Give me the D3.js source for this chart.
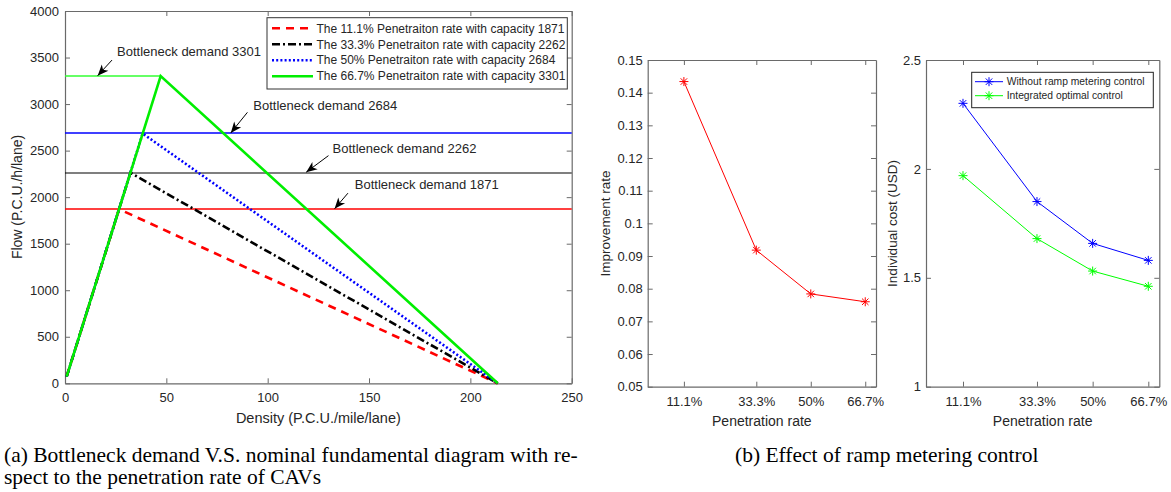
<!DOCTYPE html>
<html>
<head>
<meta charset="utf-8">
<script src="https://cdn.jsdelivr.net/npm/d3@7/dist/d3.min.js"></script>
<style>
  html, body { margin: 0; padding: 0; background: #fff; }
  svg { display: block; }
  text { font-family: "Liberation Sans", Arial, sans-serif; fill: #262626; }
  .caption { font-family: "Liberation Serif", "Times New Roman", serif; fill: #000; }
</style>
</head>
<body>
<svg id="fig" width="1171" height="492"></svg>
<script>
// ---------- (a) fundamental diagrams ----------
const fdNames = [
  "The 11.1% Penetraiton rate with capacity 1871",
  "The 33.3% Penetraiton rate with capacity 2262",
  "The 50% Penetraiton rate with capacity 2684",
  "The 66.7% Penetraiton rate with capacity 3301"
];
// triangle vertices: free-flow start, capacity point, jam density
const fdDensity = [
  [0.8, 26.7, 213.5],
  [0.8, 32.3, 213.5],
  [0.8, 38.3, 213.5],
  [0.8, 47.2, 213.5]
];
const fdFlow = [
  [71, 1871, 0],
  [71, 2262, 0],
  [71, 2684, 0],
  [71, 3301, 0]
];
// bottleneck demand lines
const demandValues = [1871, 2262, 2684, 3301];
const demandEnd = [250, 250, 250, 47.2];
// annotation text anchor (density, flow) and arrow tail/tip
const annoLabels = ["Bottleneck demand 1871", "Bottleneck demand 2262", "Bottleneck demand 2684", "Bottleneck demand 3301"];
const annoText = [[143, 2132], [132, 2518], [92.9, 2989], [25.7, 3563]];
const annoTail = [[139.6, 2043], [130, 2446], [90, 2911], [23.2, 3473]];
const annoTip = [[133, 1875], [119, 2268], [81.8, 2690], [16.1, 3305]];
const fdXTicks = [0, 50, 100, 150, 200, 250];
const fdYTicks = [0, 500, 1000, 1500, 2000, 2500, 3000, 3500, 4000];

// ---------- (b) ramp metering ----------
const penetration = [11.1, 33.3, 50, 66.7];
const penetrationLabels = ["11.1%", "33.3%", "50%", "66.7%"];
const improvementRate = [0.1434, 0.0918, 0.0784, 0.0760];
const costWithout = [2.301, 1.850, 1.658, 1.580];
const costIntegrated = [1.969, 1.680, 1.531, 1.461];
const costNames = ["Without ramp metering control", "Integrated optimal control"];
const rateYTicks = [0.05, 0.06, 0.07, 0.08, 0.09, 0.1, 0.11, 0.12, 0.13, 0.14, 0.15];
const costYTicks = [1, 1.5, 2, 2.5];

const svg = d3.select("#fig");
const AXIS = "#6a6a6a";

function boxAxes(g, x, y, o) {
  const [x0, x1] = x.range();
  const [yb, yt] = y.range();
  const bx = g.append("g").attr("transform", `translate(0,${yb})`)
    .call(d3.axisBottom(x).tickValues(o.xTicks).tickFormat(o.xFormat)
      .tickSizeInner(-5).tickSizeOuter(0).tickPadding(o.xPad));
  const tx = g.append("g").attr("transform", `translate(0,${yt})`)
    .call(d3.axisTop(x).tickValues(o.xTicks).tickFormat("")
      .tickSizeInner(-5).tickSizeOuter(0));
  const ly = g.append("g").attr("transform", `translate(${x0},0)`)
    .call(d3.axisLeft(y).tickValues(o.yTicks).tickFormat(o.yFormat)
      .tickSizeInner(-5).tickSizeOuter(0).tickPadding(o.yPad));
  const ry = g.append("g").attr("transform", `translate(${x1},0)`)
    .call(d3.axisRight(y).tickValues(o.yTicks).tickFormat("")
      .tickSizeInner(-5).tickSizeOuter(0));
  [bx, tx, ly, ry].forEach(a => {
    a.attr("font-family", null).attr("font-size", null);
    a.select(".domain").attr("stroke", AXIS).attr("stroke-width", 1.2);
    a.selectAll(".tick line").attr("stroke", AXIS);
    a.selectAll("text").style("font-size", o.fontSize + "px").attr("fill", "#262626");
  });
}

function asterisk(s) {
  const d = s * 0.72;
  return `M${-s},0H${s}M0,${-s}V${s}M${-d},${-d}L${d},${d}M${-d},${d}L${d},${-d}`;
}

// ===== panel (a) =====
{
  const x = d3.scaleLinear().domain([0, 250]).range([65, 571.7]);
  const y = d3.scaleLinear().domain([0, 4000]).range([383.3, 11]);
  const g = svg.append("g");

  boxAxes(g, x, y, {
    xTicks: fdXTicks, yTicks: fdYTicks,
    xFormat: d3.format("d"), yFormat: d3.format("d"),
    xPad: 9, yPad: 6, fontSize: 13
  });

  // thin bottleneck demand lines
  const demandColors = ["#ff0000", "#000000", "#0000ff", "#33ff33"];
  g.append("g").selectAll("line").data(demandValues).join("line")
    .attr("x1", x(0)).attr("x2", (d, i) => x(demandEnd[i]))
    .attr("y1", d => Math.round(y(d))).attr("y2", d => Math.round(y(d)))
    .attr("stroke", (d, i) => demandColors[i])
    .attr("stroke-width", (d, i) => i === 1 ? 1.1 : 1.6);

  const fdStyles = [
    { color: "#ff0000", dash: "8,6" },
    { color: "#000000", dash: "8,3,2,3" },
    { color: "#0000ff", dash: "2,2.2" },
    { color: "#00ee00", dash: null }
  ];
  const line = d3.line().x(d => x(d[0])).y(d => y(d[1]));
  fdDensity.forEach((dens, i) => {
    const pts = dens.map((v, j) => [v, fdFlow[i][j]]);
    g.append("path").datum(pts)
      .attr("d", line)
      .attr("fill", "none")
      .attr("stroke", fdStyles[i].color)
      .attr("stroke-width", 2.6)
      .attr("stroke-dasharray", fdStyles[i].dash)
      .attr("stroke-linejoin", "miter");
  });

  // annotations with arrows
  annoLabels.forEach((t, i) => {
    g.append("text")
      .attr("x", x(annoText[i][0])).attr("y", y(annoText[i][1]))
      .attr("dy", "0.35em")
      .style("font-size", "13px").attr("fill", "#000")
      .text(t);
    const x1 = x(annoTail[i][0]), y1 = y(annoTail[i][1]);
    const x2 = x(annoTip[i][0]), y2 = y(annoTip[i][1]);
    const ang = Math.atan2(y2 - y1, x2 - x1) * 180 / Math.PI;
    g.append("line").attr("x1", x1).attr("y1", y1).attr("x2", x2).attr("y2", y2)
      .attr("stroke", "#000").attr("stroke-width", 1);
    g.append("path")
      .attr("transform", `translate(${x2},${y2}) rotate(${ang})`)
      .attr("d", "M0,0L-11,-4.5L-8,0L-11,4.5Z")
      .attr("fill", "#000");
  });

  // legend
  const lg = g.append("g");
  lg.append("rect").attr("x", 267).attr("y", 17.7).attr("width", 300.3).attr("height", 71.3)
    .attr("fill", "#fff").attr("stroke", "#333").attr("stroke-width", 1);
  const rowY = [28.3, 44.3, 60.2, 76.2];
  fdNames.forEach((n, i) => {
    lg.append("line").attr("x1", 272).attr("x2", 313).attr("y1", rowY[i]).attr("y2", rowY[i])
      .attr("stroke", fdStyles[i].color).attr("stroke-width", 2.6)
      .attr("stroke-dasharray", fdStyles[i].dash);
    lg.append("text").attr("x", 316.5).attr("y", rowY[i]).attr("dy", "0.35em")
      .style("font-size", "12px").attr("fill", "#000").text(n);
  });

  g.append("text").attr("x", (65 + 571.7) / 2).attr("y", 418).attr("dy", "0.35em")
    .attr("text-anchor", "middle").style("font-size", "14.5px")
    .text("Density (P.C.U./mile/lane)");
  g.append("text").attr("transform", `translate(17,197) rotate(-90)`).attr("dy", "0.35em")
    .attr("text-anchor", "middle").style("font-size", "14px")
    .text("Flow (P.C.U./h/lane)");
}

// ===== panel (b) left: improvement rate =====
{
  const x = d3.scaleLinear().domain([0, 70]).range([647.7, 876]);
  const y = d3.scaleLinear().domain([0.05, 0.15]).range([386.7, 60]);
  const g = svg.append("g");
  boxAxes(g, x, y, {
    xTicks: penetration, yTicks: rateYTicks,
    xFormat: (d, i) => penetrationLabels[i], yFormat: d => String(+d.toFixed(2)),
    xPad: 10, yPad: 5, fontSize: 13
  });
  const pts = penetration.map((p, i) => [p, improvementRate[i]]);
  g.append("path").datum(pts)
    .attr("d", d3.line().x(d => x(d[0])).y(d => y(d[1])))
    .attr("fill", "none").attr("stroke", "#ff0000").attr("stroke-width", 1);
  g.selectAll(".mk").data(pts).join("path")
    .attr("transform", d => `translate(${x(d[0])},${y(d[1])})`)
    .attr("d", asterisk(4.5)).attr("stroke", "#ff0000").attr("stroke-width", 1).attr("fill", "none");
  g.append("text").attr("x", (647.7 + 876) / 2).attr("y", 421).attr("dy", "0.35em")
    .attr("text-anchor", "middle").style("font-size", "14px").text("Penetration rate");
  g.append("text").attr("transform", `translate(605,223.5) rotate(-90)`).attr("dy", "0.35em")
    .attr("text-anchor", "middle").style("font-size", "13.5px").text("Improvement rate");
}

// ===== panel (b) right: individual cost =====
{
  const x = d3.scaleLinear().domain([0, 70]).range([926, 1159.3]);
  const y = d3.scaleLinear().domain([1, 2.5]).range([386.7, 60]);
  const g = svg.append("g");
  boxAxes(g, x, y, {
    xTicks: penetration, yTicks: costYTicks,
    xFormat: (d, i) => penetrationLabels[i], yFormat: d => String(d),
    xPad: 10, yPad: 5, fontSize: 13
  });
  const series = [costWithout, costIntegrated];
  const colors = ["#0000ff", "#00ff00"];
  const line = d3.line().x(d => x(d[0])).y(d => y(d[1]));
  series.forEach((vals, k) => {
    const pts = penetration.map((p, i) => [p, vals[i]]);
    g.append("path").datum(pts).attr("d", line)
      .attr("fill", "none").attr("stroke", colors[k]).attr("stroke-width", 1);
    g.append("g").selectAll("path").data(pts).join("path")
      .attr("transform", d => `translate(${x(d[0])},${y(d[1])})`)
      .attr("d", asterisk(4.5)).attr("stroke", colors[k]).attr("stroke-width", 1).attr("fill", "none");
  });
  // legend
  g.append("rect").attr("x", 971.7).attr("y", 72.3).attr("width", 181.6).attr("height", 35.4)
    .attr("fill", "#fff").attr("stroke", "#222").attr("stroke-width", 1);
  const rowY = [81.7, 95.7];
  costNames.forEach((n, k) => {
    g.append("line").attr("x1", 975).attr("x2", 1003).attr("y1", rowY[k]).attr("y2", rowY[k])
      .attr("stroke", colors[k]).attr("stroke-width", 1);
    g.append("path").attr("transform", `translate(989,${rowY[k]})`)
      .attr("d", asterisk(4.5)).attr("stroke", colors[k]).attr("stroke-width", 1).attr("fill", "none");
    g.append("text").attr("x", 1006.7).attr("y", rowY[k]).attr("dy", "0.35em")
      .style("font-size", "10.3px").attr("fill", "#000").text(n);
  });
  g.append("text").attr("x", (926 + 1159.3) / 2).attr("y", 421).attr("dy", "0.35em")
    .attr("text-anchor", "middle").style("font-size", "14px").text("Penetration rate");
  g.append("text").attr("transform", `translate(892,223.5) rotate(-90)`).attr("dy", "0.35em")
    .attr("text-anchor", "middle").style("font-size", "13.5px").text("Individual cost (USD)");
}

// ===== captions =====
svg.append("text").attr("class", "caption").attr("x", 4).attr("y", 462)
  .style("font-size", "21.5px")
  .text("(a) Bottleneck demand V.S. nominal fundamental diagram with re-");
svg.append("text").attr("class", "caption").attr("x", 4).attr("y", 484)
  .style("font-size", "21.5px")
  .text("spect to the penetration rate of CAVs");
svg.append("text").attr("class", "caption").attr("x", 735).attr("y", 462)
  .style("font-size", "21.5px")
  .text("(b) Effect of ramp metering control");
</script>
</body>
</html>
